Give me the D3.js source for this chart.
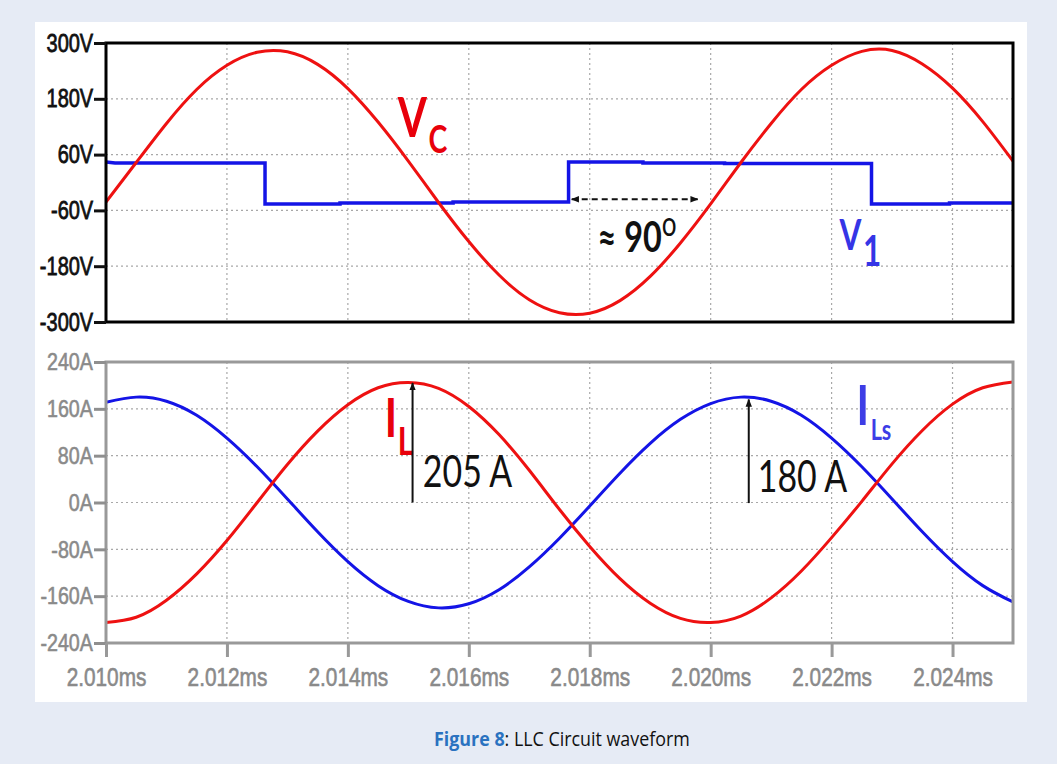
<!DOCTYPE html>
<html><head><meta charset="utf-8">
<script src="https://cdn.jsdelivr.net/npm/d3@7"></script>
<style>
html,body{margin:0;padding:0;background:#e6ebf5;}
svg{display:block;}
</style></head><body>
<svg id="chart" width="1057" height="764"></svg>
<script>
// ---------- data ----------
const xTicks = [2.010, 2.012, 2.014, 2.016, 2.018, 2.020, 2.022, 2.024];
const xTickLabels = ["2.010ms", "2.012ms", "2.014ms", "2.016ms", "2.018ms", "2.020ms", "2.022ms", "2.024ms"];
const vTicks = [300, 180, 60, -60, -180, -300];
const vTickLabels = ["300V", "180V", "60V", "-60V", "-180V", "-300V"];
const iTicks = [240, 160, 80, 0, -80, -160, -240];
const iTickLabels = ["240A", "160A", "80A", "0A", "-80A", "-160A", "-240A"];

// sample times (ms) for the sinusoidal traces
const sampleTime = [2.0100, 2.0105, 2.0110, 2.0115, 2.0120, 2.0125, 2.0130, 2.0135, 2.0140, 2.0145,
  2.0150, 2.0155, 2.0160, 2.0165, 2.0170, 2.0175, 2.0180, 2.0185, 2.0190, 2.0195,
  2.0200, 2.0205, 2.0210, 2.0215, 2.0220, 2.0225, 2.0230, 2.0235, 2.0240, 2.0245, 2.0250];

// Vc (red, top), volts
const vcValue = [-42, 43, 127, 200, 252, 280, 281, 254, 202, 130,
  46, -43, -127, -199, -252, -280, -281, -254, -202, -130,
  -46, 43, 127, 200, 252, 282, 284, 255, 203, 131, 46];

// IL (red, bottom), amps
const ilValue = [-205, -196, -167, -122, -65, 0, 65, 122, 167, 196,
  205, 195, 164, 116, 55, -12, -75, -130, -172, -198,
  -205, -194, -163, -117, -60, 2, 66, 123, 168, 196, 206];

// ILs (blue, bottom), amps
const ilsValue = [171, 180, 173, 149, 110, 61, 6, -50, -101, -142,
  -169, -180, -173, -149, -110, -61, -6, 50, 101, 142,
  169, 180, 173, 149, 110, 61, 6, -50, -101, -142, -170];

// V1 (blue, top) – square wave
const v1Time = [2.0100, 2.01015, 2.01263, 2.01263, 2.01387, 2.01387, 2.01574, 2.01574, 2.01765, 2.01765,
  2.01888, 2.01888, 2.02023, 2.02023, 2.02266, 2.02266, 2.02395, 2.02395, 2.0250];
const v1Value = [44, 42, 42, -46, -46, -44, -44, -42, -42, 44,
  44, 42, 42, 41, 41, -46, -46, -44, -44];

// ---------- layout ----------
const W = 1057, H = 764;
const L = 106, R = 1013;
const topP = {y0: 43, y1: 322};
const botP = {y0: 362, y1: 643};
const RED = "#ee1111", BLUE = "#1414e6";

const svg = d3.select("#chart");
svg.append("rect").attr("width", W).attr("height", H).attr("fill", "#e6ebf5");
svg.append("rect").attr("x", 35).attr("y", 22).attr("width", 992).attr("height", 680).attr("fill", "#ffffff");

const x = d3.scaleLinear().domain([2.010, 2.025]).range([L, R]);
const yV = d3.scaleLinear().domain([-300, 300]).range([topP.y1, topP.y0]);
const yI = d3.scaleLinear().domain([-240, 240]).range([botP.y1, botP.y0]);

const defs = svg.append("defs");
defs.append("clipPath").attr("id", "clipTop").append("rect")
  .attr("x", L).attr("y", topP.y0).attr("width", R - L).attr("height", topP.y1 - topP.y0);
defs.append("clipPath").attr("id", "clipBot").append("rect")
  .attr("x", L).attr("y", botP.y0).attr("width", R - L).attr("height", botP.y1 - botP.y0);
function marker(id, orient) {
  defs.append("marker").attr("id", id).attr("viewBox", "0 0 10 10")
    .attr("refX", 9).attr("refY", 5).attr("markerWidth", 4).attr("markerHeight", 4)
    .attr("orient", orient).attr("markerUnits", "strokeWidth")
    .append("path").attr("d", "M0,1 L10,5 L0,9 Z").attr("fill", "#111");
}
marker("arrEnd", "auto");
marker("arrStart", "auto-start-reverse");

// ---------- grids ----------
const gridColor = "#a8a8a8";
function grid(panel, yScale, yTicks) {
  const g = svg.append("g");
  g.selectAll(".vg").data(xTicks.slice(1)).enter().append("line")
    .attr("x1", d => x(d)).attr("x2", d => x(d))
    .attr("y1", panel.y0).attr("y2", panel.y1)
    .attr("stroke", gridColor).attr("stroke-width", 1.2).attr("stroke-dasharray", "2,3");
  g.selectAll(".hg").data(yTicks.slice(1, -1)).enter().append("line")
    .attr("x1", L).attr("x2", R)
    .attr("y1", d => yScale(d)).attr("y2", d => yScale(d))
    .attr("stroke", gridColor).attr("stroke-width", 1.2).attr("stroke-dasharray", "2,3");
}
grid(topP, yV, vTicks);
grid(botP, yI, iTicks);

// ---------- curves ----------
function series(t, v) { return t.map((d, i) => [d, v[i]]); }
const lineV = d3.line().x(d => x(d[0])).y(d => yV(d[1]));
const lineI = d3.line().x(d => x(d[0])).y(d => yI(d[1]));

const gTop = svg.append("g").attr("clip-path", "url(#clipTop)");
gTop.append("path").datum(series(v1Time, v1Value))
  .attr("d", lineV.curve(d3.curveLinear)).attr("fill", "none")
  .attr("stroke", BLUE).attr("stroke-width", 3.5);
gTop.append("path").datum(series(sampleTime, vcValue))
  .attr("d", lineV.curve(d3.curveNatural)).attr("fill", "none")
  .attr("stroke", RED).attr("stroke-width", 3);

const gBot = svg.append("g").attr("clip-path", "url(#clipBot)");
gBot.append("path").datum(series(sampleTime, ilsValue))
  .attr("d", lineI.curve(d3.curveNatural)).attr("fill", "none")
  .attr("stroke", BLUE).attr("stroke-width", 3);
gBot.append("path").datum(series(sampleTime, ilValue))
  .attr("d", lineI.curve(d3.curveNatural)).attr("fill", "none")
  .attr("stroke", RED).attr("stroke-width", 3);

// ---------- frames ----------
svg.append("rect").attr("x", L).attr("y", topP.y0).attr("width", R - L).attr("height", topP.y1 - topP.y0)
  .attr("fill", "none").attr("stroke", "#000").attr("stroke-width", 3);
svg.append("rect").attr("x", L).attr("y", botP.y0).attr("width", R - L).attr("height", botP.y1 - botP.y0)
  .attr("fill", "none").attr("stroke", "#999").attr("stroke-width", 3);

// ---------- axes ----------
const axisFont = "'Liberation Sans', Arial, sans-serif";
function styleAxis(g, color, fontSize) {
  g.select(".domain").remove();
  g.selectAll(".tick line").attr("stroke", color).attr("stroke-width", 3);
  g.selectAll(".tick text").attr("fill", color).attr("font-size", fontSize)
    .attr("font-family", axisFont);
}
const ayV = svg.append("g").attr("transform", `translate(${L},0)`)
  .call(d3.axisLeft(yV).tickValues(vTicks).tickFormat((d, i) => vTickLabels[i]).tickSize(12).tickPadding(4));
styleAxis(ayV, "#111", 25);
ayV.selectAll(".tick text").attr("x", -16).attr("transform", "scale(0.8,1)")
  .attr("stroke", "#111").attr("stroke-width", 0.8);

const ayI = svg.append("g").attr("transform", `translate(${L},0)`)
  .call(d3.axisLeft(yI).tickValues(iTicks).tickFormat((d, i) => iTickLabels[i]).tickSize(12).tickPadding(4));
styleAxis(ayI, "#8f8f8f", 24);
ayI.selectAll(".tick text").attr("fill", "#8a8a8a").attr("x", -16).attr("transform", "scale(0.82,1)")
  .attr("stroke", "#8a8a8a").attr("stroke-width", 0.6);

const ax = svg.append("g").attr("transform", `translate(0,${botP.y1})`)
  .call(d3.axisBottom(x).tickValues(xTicks).tickFormat((d, i) => xTickLabels[i]).tickSize(14).tickPadding(11));
styleAxis(ax, "#999", 26);
ax.selectAll(".tick text").attr("fill", "#8a8a8a").attr("transform", "scale(0.8,1)")
  .attr("stroke", "#8a8a8a").attr("stroke-width", 0.6);

// ---------- annotations ----------
const annFont = "Lato, 'Open Sans', sans-serif";
function label(px, py, sx, build) {
  const g = svg.append("g").attr("transform", `translate(${px},${py}) scale(${sx},1)`);
  const t = g.append("text").attr("font-family", annFont);
  build(t);
  return g;
}
// Vc
label(x(2.014826), yV(98), 0.75, t => {
  t.attr("fill", "#e8000b").attr("font-weight", 700);
  t.append("tspan").attr("font-size", 56).text("V");
  t.append("tspan").attr("font-size", 38).attr("dx", 2).attr("dy", 16).text("C");
});
// V1
label(x(2.022132), yV(-145), 0.75, t => {
  t.attr("fill", "#3535e6").attr("font-weight", 700);
  t.append("tspan").attr("font-size", 42).text("V");
  t.append("tspan").attr("font-size", 42).attr("dx", 2).attr("dy", 16).text("1");
});
// ≈ 90°
label(x(2.01813), yV(-150), 0.77, t => {
  t.attr("fill", "#111").attr("font-weight", 700);
  t.append("tspan").attr("font-size", 42).text("\u2248 90");
  t.append("tspan").attr("font-size", 34).attr("dy", -16).attr("font-weight", 400).text("o");
});
// phase arrow
svg.append("line")
  .attr("x1", x(2.017702)).attr("x2", x(2.019785)).attr("y1", yV(-36)).attr("y2", yV(-36))
  .attr("stroke", "#111").attr("stroke-width", 2).attr("stroke-dasharray", "6,4")
  .attr("marker-start", "url(#arrStart)").attr("marker-end", "url(#arrEnd)");

// IL
label(x(2.01461), yI(112), 0.77, t => {
  t.attr("fill", "#e8000b").attr("font-weight", 700);
  t.append("tspan").attr("font-size", 54).text("I");
  t.append("tspan").attr("font-size", 39).attr("dx", 1).attr("dy", 18).text("L");
});
// ILs
label(x(2.022413), yI(133), 0.77, t => {
  t.attr("fill", "#3d3de6").attr("font-weight", 700);
  t.append("tspan").attr("font-size", 55).text("I");
  t.append("tspan").attr("font-size", 28).attr("dx", 2).attr("dy", 15).text("Ls");
});
// peak arrows
svg.append("line").attr("x1", x(2.01507)).attr("x2", x(2.01507)).attr("y1", yI(0)).attr("y2", yI(204))
  .attr("stroke", "#111").attr("stroke-width", 2).attr("marker-end", "url(#arrEnd)");
svg.append("line").attr("x1", x(2.02063)).attr("x2", x(2.02063)).attr("y1", yI(-1)).attr("y2", yI(176))
  .attr("stroke", "#111").attr("stroke-width", 2).attr("marker-end", "url(#arrEnd)");
label(x(2.01524), yI(27), 0.77, t => {
  t.attr("fill", "#111").attr("font-size", 44).attr("font-weight", 400).text("205 A");
});
label(x(2.02078), yI(18), 0.77, t => {
  t.attr("fill", "#111").attr("font-size", 44).attr("font-weight", 400).text("180 A");
});

// ---------- caption ----------
const capX = 434, capY = 746, capW = 256;
const cap = svg.append("g");
const capText = cap.append("text").attr("font-family", "'Open Sans', sans-serif").attr("font-size", 20);
capText.append("tspan").attr("fill", "#2a72c0").attr("font-weight", 700).text("Figure 8");
capText.append("tspan").attr("fill", "#111").text(": LLC Circuit waveform");
const cw = capText.node().getComputedTextLength();
cap.attr("transform", `translate(${capX},${capY}) scale(${capW / cw},1)`);
</script>
</body></html>
